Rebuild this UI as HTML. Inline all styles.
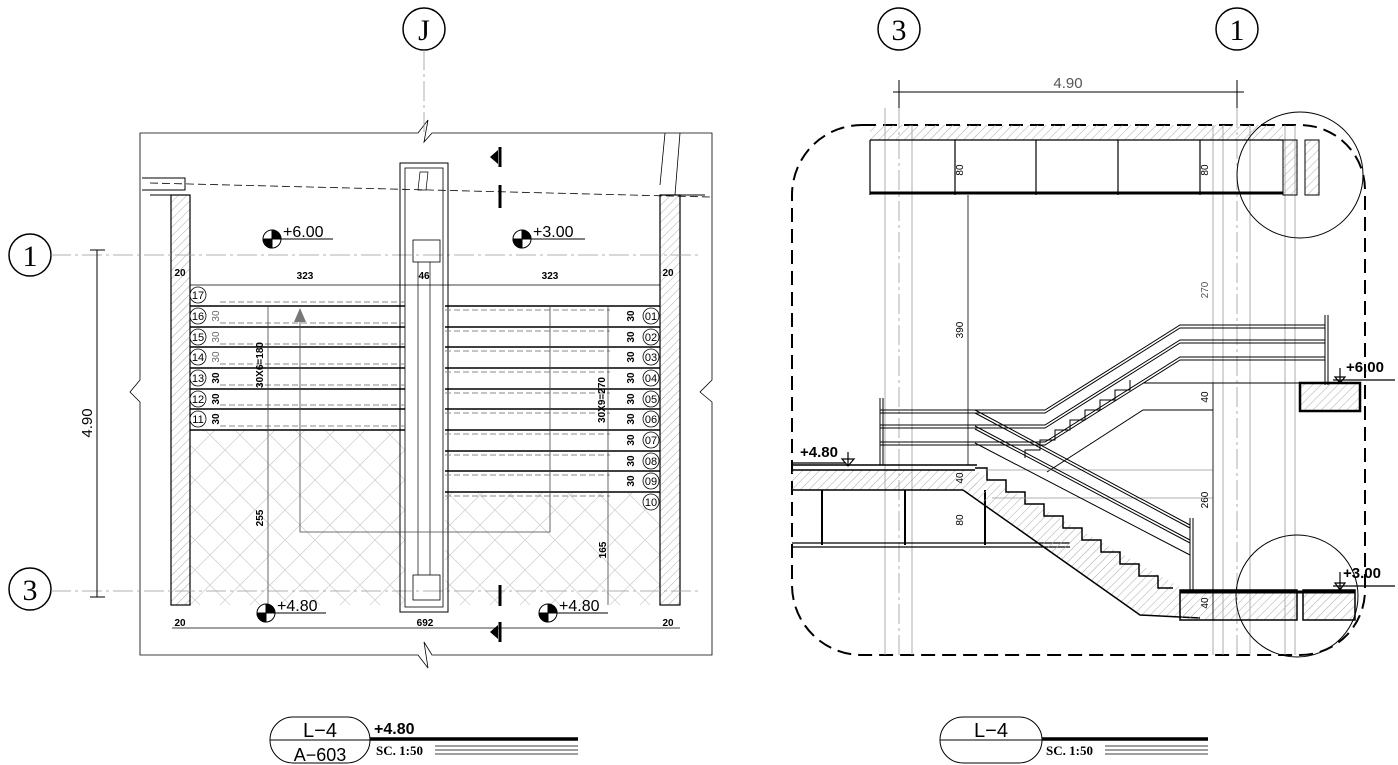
<!DOCTYPE html>
<html><head><meta charset="utf-8"><style>
body{margin:0;background:#fff}
svg{display:block}
text{font-family:"Liberation Sans",sans-serif}
text.sf{font-family:"Liberation Serif",serif}
.t{font-size:10px;font-weight:bold}
</style></head><body>
<svg width="1398" height="765" viewBox="0 0 1398 765" xmlns="http://www.w3.org/2000/svg">
<defs>
<pattern id="hb" width="30" height="30" patternUnits="userSpaceOnUse">
<path d="M0 15 L15 0 M15 30 L30 15 M0 15 L15 30 M15 0 L30 15" stroke="#ccc" stroke-width="0.7" fill="none"/>
</pattern>
<pattern id="ht" width="6" height="6" patternUnits="userSpaceOnUse" patternTransform="rotate(45)">
<line x1="0" y1="0" x2="0" y2="6" stroke="#aaa" stroke-width="1"/>
</pattern>
</defs>
<g fill="none" stroke="#000">
<!-- ===== LEFT PLAN ===== -->
<path d="M140 133 H418 L428 120 L424 142 L432 133 H712 V380 L700 392 L712 402 V655 H432 L424 642 L428 668 L418 655 H140 V402 L130 392 L140 380 Z" stroke-width="0.8"/>
<rect x="190" y="430" width="215" height="175" fill="url(#hb)" stroke="none"/>
<rect x="445" y="492" width="215" height="113" fill="url(#hb)" stroke="none"/>
<rect x="171" y="195" width="19" height="410" fill="url(#ht)" stroke-width="1.2"/>
<rect x="660" y="195" width="20" height="410" fill="url(#ht)" stroke-width="1.2"/>
<path d="M150 195 H171 M680 195 H705 M142 178 H185 V190 H142" stroke-width="1"/>
<path d="M150 183 L710 197" stroke-dasharray="8 4" stroke-width="0.8"/>
<path d="M665 133 L660 185 M680 133 L675 195" stroke-width="0.8"/>
<circle cx="30" cy="255" r="21" stroke-width="1.5"/>
<text class="sf" x="30" y="266" font-size="30" text-anchor="middle" fill="#000" stroke="none">1</text>
<circle cx="30" cy="589" r="21" stroke-width="1.5"/>
<text class="sf" x="30" y="600" font-size="30" text-anchor="middle" fill="#000" stroke="none">3</text>
<circle cx="424" cy="29" r="21" stroke-width="1.5"/>
<text class="sf" x="424" y="40" font-size="30" text-anchor="middle" fill="#000" stroke="none">J</text>
<path d="M51 255 H700 M51 591 H700 M424 50 V133" stroke="#999" stroke-width="0.8" stroke-dasharray="20 4 3 4"/>
<path d="M97 250 V597 M90 250 H105 M90 597 H105" stroke-width="1"/>
<text transform="translate(92 423) rotate(-90)" font-size="15" text-anchor="middle" fill="#000" stroke="none">4.90</text>
<rect x="400" y="163" width="48" height="449" stroke-width="1"/>
<rect x="405" y="168" width="38" height="439" stroke-width="0.8"/>
<rect x="413" y="240" width="27" height="22" stroke-width="0.8"/>
<rect x="413" y="575" width="27" height="25" stroke-width="0.8"/>
<path d="M418 262 V575 M430 262 V575 M420 172 L428 172 L426 190 L418 190Z" stroke-width="0.7"/>
<path d="M190 285 H660" stroke-width="0.8"/>
<g stroke-width="1.5">
<path d="M190 306H405M190 327H405M190 347H405M190 368H405M190 389H405M190 409H405M190 430H405"/>
<path d="M445 306H660M445 327H660M445 347H660M445 368H660M445 389H660M445 409H660M445 430H660M445 451H660M445 471H660M445 492H660"/>
</g>
<g stroke="#888" stroke-dasharray="6 3" stroke-width="1">
<path d="M220 302H405M220 323H405M220 344H405M220 364H405M220 385H405M220 405H405M220 426H405"/>
<path d="M445 310H610M445 331H610M445 351H610M445 372H610M445 393H610M445 413H610M445 434H610M445 455H610M445 475H610M445 496H610"/>
</g>
<path d="M300 310 V532 H550 V305 M268 305 V605 M608 305 V605" stroke="#444" stroke-width="0.8"/>
<path d="M294 322 L300 308 L306 322Z" fill="#777" stroke="none"/>
<g fill="#fff" stroke-width="0.8">
<circle cx="198" cy="295" r="8"/><circle cx="198" cy="316" r="8"/><circle cx="198" cy="337" r="8"/><circle cx="198" cy="357" r="8"/><circle cx="198" cy="378" r="8"/><circle cx="198" cy="399" r="8"/><circle cx="198" cy="419" r="8"/>
<circle cx="651" cy="316" r="8"/><circle cx="651" cy="337" r="8"/><circle cx="651" cy="357" r="8"/><circle cx="651" cy="378" r="8"/><circle cx="651" cy="399" r="8"/><circle cx="651" cy="419" r="8"/><circle cx="651" cy="440" r="8"/><circle cx="651" cy="461" r="8"/><circle cx="651" cy="481" r="8"/><circle cx="651" cy="502" r="8"/>
</g>
<g fill="#000" stroke="none" font-size="11" text-anchor="middle">
<text x="198" y="299">17</text><text x="198" y="320">16</text><text x="198" y="341">15</text><text x="198" y="361">14</text><text x="198" y="382">13</text><text x="198" y="403">12</text><text x="198" y="423">11</text>
<text x="651" y="320">01</text><text x="651" y="341">02</text><text x="651" y="361">03</text><text x="651" y="382">04</text><text x="651" y="403">05</text><text x="651" y="423">06</text><text x="651" y="444">07</text><text x="651" y="465">08</text><text x="651" y="485">09</text><text x="651" y="506">10</text>
</g>
<g fill="#000" stroke="none" class="t" text-anchor="middle">
<text transform="translate(219 316) rotate(-90)" fill="#666" font-weight="normal">30</text><text transform="translate(219 337) rotate(-90)" fill="#666" font-weight="normal">30</text><text transform="translate(219 357) rotate(-90)" fill="#666" font-weight="normal">30</text><text transform="translate(219 378) rotate(-90)">30</text><text transform="translate(219 399) rotate(-90)">30</text><text transform="translate(219 419) rotate(-90)">30</text>
<text transform="translate(634 316) rotate(-90)">30</text><text transform="translate(634 337) rotate(-90)">30</text><text transform="translate(634 357) rotate(-90)">30</text><text transform="translate(634 378) rotate(-90)">30</text><text transform="translate(634 399) rotate(-90)">30</text><text transform="translate(634 419) rotate(-90)">30</text><text transform="translate(634 440) rotate(-90)">30</text><text transform="translate(634 461) rotate(-90)">30</text><text transform="translate(634 481) rotate(-90)">30</text>
<text transform="translate(263 365) rotate(-90)">30X6=180</text>
<text transform="translate(605 400) rotate(-90)">30X9=270</text>
<text transform="translate(263 518) rotate(-90)">255</text>
<text transform="translate(606 550) rotate(-90)">165</text>
<text x="305" y="279">323</text><text x="550" y="279">323</text><text x="424" y="279">46</text>
<text x="180" y="276">20</text><text x="668" y="276">20</text>
<text x="425" y="626">692</text><text x="180" y="626">20</text><text x="668" y="626">20</text>
</g>
<path d="M172 628 H680" stroke-width="0.8"/>
<g stroke-width="1">
<circle cx="272" cy="239" r="9"/><path d="M272 230 V248 M263 239 H281"/><path d="M272 239 V230 A9 9 0 0 1 281 239Z M272 239 V248 A9 9 0 0 1 263 239Z" fill="#000"/>
<path d="M281 239 H333"/>
<circle cx="522" cy="239" r="9"/><path d="M522 230 V248 M513 239 H531"/><path d="M522 239 V230 A9 9 0 0 1 531 239Z M522 239 V248 A9 9 0 0 1 513 239Z" fill="#000"/>
<path d="M531 239 H585"/>
<circle cx="266" cy="613" r="9"/><path d="M266 604 V622 M257 613 H275"/><path d="M266 613 V604 A9 9 0 0 1 275 613Z M266 613 V622 A9 9 0 0 1 257 613Z" fill="#000"/>
<path d="M275 613 H326"/>
<circle cx="548" cy="613" r="9"/><path d="M548 604 V622 M539 613 H557"/><path d="M548 613 V604 A9 9 0 0 1 557 613Z M548 613 V622 A9 9 0 0 1 539 613Z" fill="#000"/>
<path d="M557 613 H608"/>
</g>
<g fill="#000" stroke="none" font-size="16">
<text x="283" y="237">+6.00</text><text x="533" y="237">+3.00</text><text x="277" y="611">+4.80</text><text x="559" y="611">+4.80</text>
</g>
<path d="M500 147 V167 M500 185 V208 M500 585 V606 M500 622 V642" stroke-width="3"/>
<path d="M490 157 L498 150 V164Z M490 632 L498 625 V639Z" fill="#000" stroke="none"/>
<!-- ===== RIGHT SECTION ===== -->
<circle cx="899" cy="29" r="21" stroke-width="1.5"/>
<text class="sf" x="899" y="40" font-size="30" text-anchor="middle" fill="#000" stroke="none">3</text>
<circle cx="1237" cy="29" r="21" stroke-width="1.5"/>
<text class="sf" x="1237" y="40" font-size="30" text-anchor="middle" fill="#000" stroke="none">1</text>
<path d="M893 92 H1244 M899 80 V108 M1237 80 V108" stroke-width="1"/>
<text x="1068" y="88" font-size="15" text-anchor="middle" fill="#555" stroke="none">4.90</text>
<path d="M862 125 H1300 A65 65 0 0 1 1365 190 V590 A65 65 0 0 1 1300 655 H862 A70 70 0 0 1 792 585 V195 A70 70 0 0 1 862 125Z" stroke-width="2" stroke-dasharray="14 7"/>
<g stroke="#999" stroke-width="0.8">
<path d="M885 108 V655 M912 125 V655 M1213 125 V655 M1223 125 V655 M1250 125 V655 M1285 125 V655 M1295 125 V655"/>
<path d="M899 108 V655 M1237 108 V655" stroke-dasharray="20 4 3 4"/>
</g>
<rect x="870" y="125" width="413" height="15" fill="url(#ht)" stroke="none"/>
<path d="M870 140 H1283 M870 140 V195 M955 140 V195 M1036 140 V195 M1118 140 V195 M1200 140 V195" stroke-width="1.2"/>
<path d="M870 193 H1283" stroke-width="3"/>
<rect x="1283" y="140" width="14" height="55" fill="url(#ht)" stroke-width="1"/>
<rect x="1305" y="140" width="14" height="55" fill="url(#ht)" stroke-width="1"/>
<circle cx="1300" cy="175" r="63" stroke-width="1"/>
<circle cx="1297" cy="596" r="61" stroke-width="1"/>
<path d="M968 195 V465" stroke-width="0.8"/>
<rect x="792" y="470" width="185" height="20" fill="url(#ht)" stroke="none"/>
<path d="M792 465 H977 M792 470 H975 M792 490 H963" stroke-width="1.5"/>
<path d="M822 490 V545 M905 490 V545 M985 490 V545" stroke-width="2"/>
<path d="M792 543 H1070 M792 547 H1070" stroke-width="1.3"/>
<path d="M975 470 L1185 590 L1200 620 L1140 615 L963 490Z" fill="url(#ht)" stroke="none"/>
<path d="M975 468 h12 v12 h19 v12 h19 v12 h19 v12 h19 v12 h19 v12 h19 v12 h19 v12 h19 v12 h19 v12 h15" stroke-width="1.5" fill="none"/>
<path d="M963 490 L1140 615 L1200 618" stroke-width="1.5"/>
<rect x="1180" y="590" width="117" height="30" fill="url(#ht)" stroke-width="1.5"/>
<rect x="1303" y="590" width="52" height="30" fill="url(#ht)" stroke-width="1.5"/>
<path d="M1180 592 H1355" stroke-width="3"/>
<path d="M1025 458 v-8 h15 v-10 h15 v-10 h15 v-10 h15 v-10 h15 v-10 h15 v-10 h15 v-10" stroke-width="1"/>
<path d="M1047 472 L1143 410 H1213" stroke-width="1"/>
<path d="M1143 383 H1300" stroke-width="1"/>
<rect x="1300" y="383" width="60" height="28" fill="url(#ht)" stroke-width="2.5"/>
<path d="M985 470 H1213 M992 498 H1213" stroke="#999" stroke-width="0.8"/>
<g stroke-width="1">
<path d="M880 410 H1045 L1180 325 H1325 M880 413 H1045 L1180 328 H1325"/>
<path d="M880 425 H1045 L1180 340 H1325 M880 428 H1045 L1180 343 H1325"/>
<path d="M880 442 H1045 L1180 357 H1325 M880 445 H1045 L1180 360 H1325"/>
<path d="M975 410 L1190 525 M975 413 L1190 528 M975 426 L1190 540 M975 429 L1190 543 M975 443 L1190 555"/>
<path d="M880 398 V465 M883 398 V465 M1190 518 V590 M1193 518 V590 M1325 315 V385 M1328 315 V385"/>
</g>
<g stroke-width="1.2">
<path d="M792 463 H845 M848 452 V466 M842 459 L854 459 L848 466Z"/>
<path d="M1333 380 H1395 M1340 368 V383 M1335 377 L1345 377 L1340 383Z"/>
<path d="M1333 586 H1395 M1340 572 V590 M1335 583 L1345 583 L1340 590Z"/>
</g>
<g fill="#000" stroke="none" font-size="15" font-weight="bold">
<text x="800" y="457">+4.80</text><text x="1346" y="372">+6.00</text><text x="1343" y="578">+3.00</text>
</g>
<g fill="#000" stroke="none" font-size="10" text-anchor="middle">
<text transform="translate(963 170) rotate(-90)">80</text>
<text transform="translate(1208 170) rotate(-90)">80</text>
<text transform="translate(1208 290) rotate(-90)" fill="#555">270</text>
<text transform="translate(963 330) rotate(-90)">390</text>
<text transform="translate(1208 397) rotate(-90)">40</text>
<text transform="translate(1208 500) rotate(-90)">260</text>
<text transform="translate(963 478) rotate(-90)">40</text>
<text transform="translate(963 520) rotate(-90)">80</text>
<text transform="translate(1208 603) rotate(-90)">40</text>
</g>
<path d="M1213 383 V620" stroke-width="0.8"/>
<rect x="270" y="717" width="100" height="46" rx="23" stroke-width="1"/>
<path d="M270 740 H370" stroke-width="1"/>
<path d="M370 739 H578" stroke-width="3.5"/>
<path d="M435 746 H578 M435 750 H578 M435 754 H578" stroke-width="0.8"/>
<rect x="940" y="717" width="102" height="46" rx="23" stroke-width="1"/>
<path d="M940 740 H1042" stroke-width="1"/>
<path d="M1042 739 H1208" stroke-width="3.5"/>
<path d="M1105 746 H1208 M1105 750 H1208 M1105 754 H1208" stroke-width="0.8"/>
</g>
<g fill="#000">
<text x="320" y="737" font-size="20" text-anchor="middle">L−4</text>
<text x="320" y="761" font-size="18" text-anchor="middle">A−603</text>
<text x="374" y="734" font-size="16" font-weight="bold">+4.80</text>
<text class="sf" x="376" y="755" font-size="13" font-weight="bold">SC. 1:50</text>
<text x="991" y="737" font-size="20" text-anchor="middle">L−4</text>
<text class="sf" x="1046" y="755" font-size="13" font-weight="bold">SC. 1:50</text>
</g>
</svg>
</body></html>
